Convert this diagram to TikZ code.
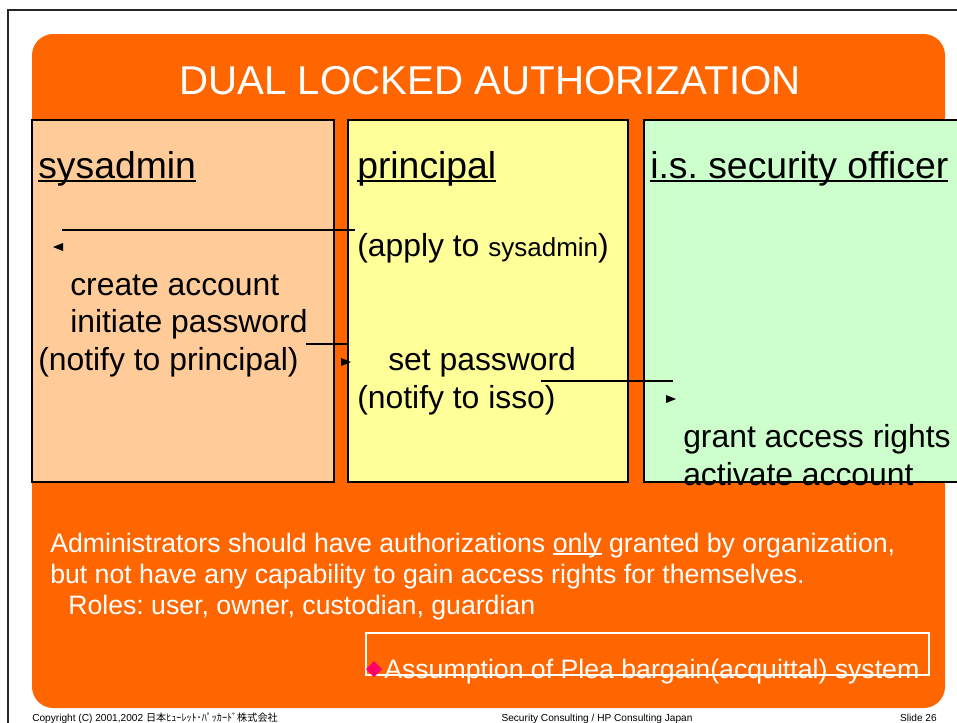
\documentclass[tikz,border=0pt]{standalone}
\usepackage{fontspec}
\setmainfont{Liberation Sans}
\newfontfamily\jpfont{Noto Sans CJK JP}
\definecolor{slideorange}{HTML}{FF6600}
\definecolor{sysfill}{HTML}{FFCC99}
\definecolor{prinfill}{HTML}{FFFF99}
\definecolor{issofill}{HTML}{CCFFCC}
\definecolor{bulletpink}{HTML}{FF0066}
\newcommand\myul[2][3pt]{\sbox0{#2}\rlap{\rule[-#1]{\wd0}{1.3pt}}\usebox0}
\frenchspacing
\begin{document}
\begin{tikzpicture}[x=0.75pt,y=-0.75pt,
  lane/.style={draw=black,line width=1.5pt},
  txt/.style={anchor=base west,inner sep=0pt,font=\fontsize{23.9pt}{28pt}\selectfont},
  head/.style={anchor=base west,inner sep=0pt,font=\fontsize{28pt}{32pt}\selectfont},
  wtxt/.style={anchor=base west,inner sep=0pt,text=white,font=\fontsize{20pt}{24pt}\selectfont},
  foot/.style={inner sep=0pt,font=\fontsize{7.6pt}{9pt}\selectfont},
  link/.style={line width=1.5pt,black},
  tip/.style={fill=black}]
\useasboundingbox (0,0) rectangle (957,722);
\clip (0,0) rectangle (957,722);
\fill[white] (0,0) rectangle (957,722);
\draw[line width=1.3pt,black!85] (8,740) -- (8,10) -- (980,10);
\fill[slideorange,rounded corners=16pt] (32,34) rectangle (945,708);
\node[anchor=base,inner sep=0pt,text=white,font=\fontsize{30.2pt}{36pt}\selectfont] (title) at (490,94) {DUAL LOCKED AUTHORIZATION};
% lanes
\draw[lane,fill=sysfill] (32,120) rectangle (334,482);
\draw[lane,fill=prinfill] (348,120) rectangle (628,482);
\draw[lane,fill=issofill] (644,120) rectangle (975,482);
\node[head] (h1) at (38,178) {\myul{sysadmin}};
\node[head] (h2) at (357,178) {\myul{principal}};
\node[head] (h3) at (650,178) {\myul{i.s. security officer}};
% texts
\node[txt] (t1) at (357,256) {(apply to {\fontsize{19.5pt}{22pt}\selectfont sysadmin})};
\node[txt] (t2) at (70,295) {create account};
\node[txt] (t3) at (70,332) {initiate password};
\node[txt] (t4) at (38,370) {(notify to principal)};
\node[txt] (t5) at (388,370) {set password};
\node[txt] (t6) at (357,408) {(notify to isso)};
\node[txt] (t7) at (683,447) {grant access rights};
\node[txt] (t8) at (683,485) {activate account};
% connectors
\coordinate (c1a) at (355,230); \coordinate (c1b) at (62,230);
\coordinate (c2a) at (306,344); \coordinate (c2b) at (347,344);
\coordinate (c3a) at (541,381); \coordinate (c3b) at (673,381);
\draw[link] (c1a) -- (c1b);
\draw[link] (c2a) -- (c2b);
\draw[link] (c3a) -- (c3b);
\fill[tip] (53,247) -- (63,243) -- (63,251) -- cycle;
\fill[tip] (351,362) -- (341,358) -- (341,366) -- cycle;
\fill[tip] (676,399) -- (666,395) -- (666,403) -- cycle;
% bottom text
\node[wtxt] (b1) at (50,552) {Administrators should have authorizations \myul[2pt]{only} granted by organization,};
\node[wtxt] (b2) at (50,583) {but not have any capability to gain access rights for themselves.};
\node[wtxt] (b3) at (68,614) {Roles: user, owner, custodian, guardian};
\draw[white,line width=1.2pt] (366,633) rectangle (929,675);
\fill[bulletpink] (374,661) -- (382,669) -- (374,677) -- (366,669) -- cycle;
\node[wtxt] (b4) at (384,678) {Assumption of Plea bargain(acquittal) system};
% footer
\node[foot,anchor=base west] (f1) at (32,721) {Copyright (C) 2001,2002 {\jpfont 日本ﾋｭｰﾚｯﾄ･ﾊﾟｯｶｰﾄﾞ株式会社}};
\node[foot,anchor=base] (f2) at (597,721) {Security Consulting / HP Consulting Japan};
\node[foot,anchor=base east] (f3) at (937,721) {Slide 26};
\end{tikzpicture}
\end{document}
